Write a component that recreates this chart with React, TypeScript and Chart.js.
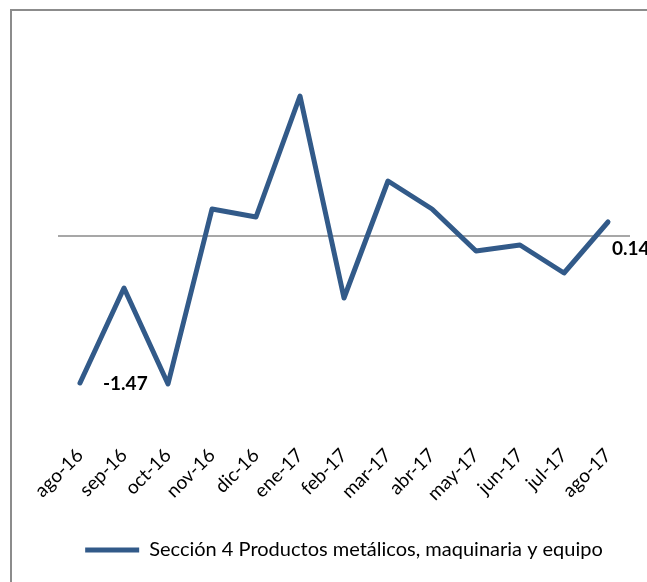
import React, { useEffect, useRef } from "react";
import { Chart, registerables } from "chart.js";

Chart.register(...registerables);

const categories = [
  "ago-16", "sep-16", "oct-16", "nov-16", "dic-16", "ene-17", "feb-17",
  "mar-17", "abr-17", "may-17", "jun-17", "jul-17", "ago-17",
];
const seriesLabel = "Sección 4 Productos metálicos, maquinaria y equipo";
const values = [-1.47, -0.52, -1.48, 0.27, 0.19, 1.4, -0.62, 0.55, 0.27, -0.15, -0.09, -0.37, 0.14];
const labelledIndices = [0, 12];

const LINE_COLOR = "#325A89";
const FONT = "Lato, 'Open Sans', sans-serif";

const zeroLinePlugin = {
  id: "zeroLine",
  beforeDatasetsDraw(chart: any) {
    const { ctx, chartArea, scales } = chart;
    const y = scales.y.getPixelForValue(0);
    ctx.save();
    ctx.strokeStyle = "#8a8a8a";
    ctx.lineWidth = 1.5;
    ctx.beginPath();
    ctx.moveTo(chartArea.left, y);
    ctx.lineTo(chartArea.right, y);
    ctx.stroke();
    ctx.restore();
  },
};

const valueLabelPlugin = {
  id: "valueLabels",
  afterDatasetsDraw(chart: any) {
    const { ctx } = chart;
    const meta = chart.getDatasetMeta(0);
    ctx.save();
    ctx.fillStyle = "#000";
    ctx.font = `bold 19px ${FONT}`;
    ctx.textAlign = "left";
    ctx.textBaseline = "middle";
    labelledIndices.forEach((i, k) => {
      const pt = meta.data[i];
      const text = values[i].toFixed(2);
      if (k === 0) ctx.fillText(text, pt.x + 23, pt.y + 1);
      else ctx.fillText(text, pt.x + 4, pt.y + 27);
    });
    ctx.restore();
  },
};

export default function App() {
  const ref = useRef<HTMLCanvasElement>(null);
  useEffect(() => {
    if (!ref.current) return;
    const chart = new Chart(ref.current, {
      type: "line",
      data: {
        labels: categories,
        datasets: [
          {
            label: seriesLabel,
            data: values,
            borderColor: LINE_COLOR,
            backgroundColor: LINE_COLOR,
            borderWidth: 5,
            borderCapStyle: "round",
            borderJoinStyle: "round",
            pointRadius: 0,
            pointHoverRadius: 0,
            tension: 0,
          },
        ],
      },
      options: {
        animation: false,
        responsive: false,
        maintainAspectRatio: false,
        layout: { padding: { left: 58, right: 17, top: 36, bottom: 12 } },
        plugins: {
          tooltip: { enabled: false },
          legend: {
            position: "bottom",
            labels: {
              usePointStyle: true,
              pointStyle: "line",
              pointStyleWidth: 54,
              boxHeight: 5,
              color: "#000",
              font: { family: FONT, size: 20 },
              padding: 10,
            },
          },
        },
        scales: {
          x: {
            offset: true,
            grid: { display: false, drawTicks: false },
            border: { display: false },
            ticks: {
              maxRotation: 45,
              minRotation: 45,
              autoSkip: false,
              color: "#000",
              font: { family: FONT, size: 19 },
              padding: 8,
            },
            afterFit(scale: any) {
              scale.height = 94;
            },
          },
          y: {
            display: false,
            min: -2,
            max: 2,
          },
        },
      },
      plugins: [zeroLinePlugin, valueLabelPlugin],
    });
    return () => chart.destroy();
  }, []);

  return (
    <div style={{ position: "absolute", left: 0, top: 0, width: 647, height: 582, background: "#fff", overflow: "hidden" }}>
      <div
        style={{
          position: "absolute",
          left: 10,
          top: 9,
          width: 700,
          height: 700,
          borderLeft: "2px solid #8c8c8c",
          borderTop: "2px solid #8c8c8c",
        }}
      />
      <canvas ref={ref} width={647} height={582} style={{ position: "absolute", left: 0, top: 0 }} />
    </div>
  );
}
